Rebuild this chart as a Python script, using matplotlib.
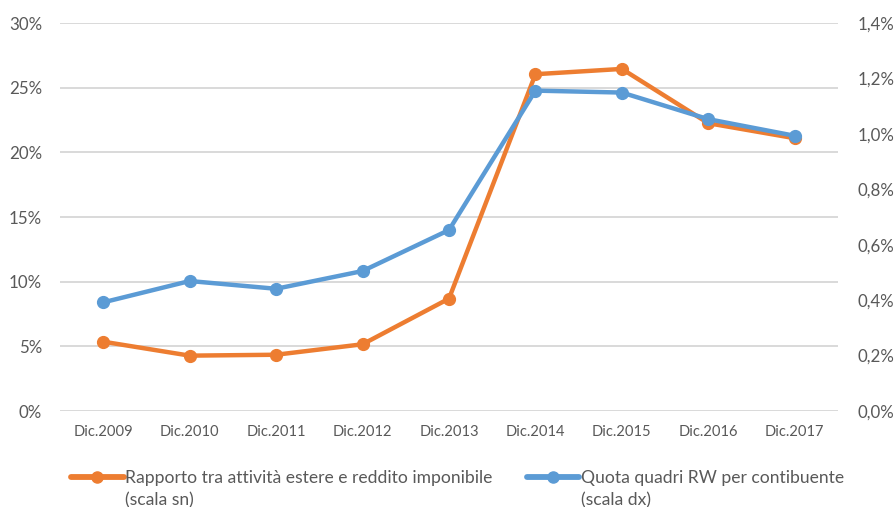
import matplotlib
matplotlib.use("Agg")
import matplotlib.pyplot as plt
from matplotlib.ticker import FuncFormatter

plt.rcParams['font.family'] = ['Lato', 'DejaVu Sans']

anni = ["Dic.2009", "Dic.2010", "Dic.2011", "Dic.2012", "Dic.2013",
        "Dic.2014", "Dic.2015", "Dic.2016", "Dic.2017"]
# rapporto attività estere / reddito imponibile (%), scala sinistra
rapporto = [5.36, 4.28, 4.35, 5.16, 8.69, 26.04, 26.45, 22.25, 21.09]
# quota quadri RW per contribuente (%), scala destra
quota_rw = [0.392, 0.469, 0.441, 0.505, 0.653, 1.156, 1.149, 1.053, 0.993]

ARANCIO = "#ED7D31"
BLU = "#5B9BD5"
GRIGIO = "#595959"

fig = plt.figure(figsize=(8.96, 5.07), dpi=100)
ax = fig.add_axes([60 / 896, 1 - 411 / 507, 778 / 896, 388 / 507])
ax2 = ax.twinx()

x = list(range(len(anni)))
l1, = ax.plot(x, rapporto, color=ARANCIO, lw=3.2, marker="o", ms=8.5,
              solid_capstyle="round", zorder=3)
l2, = ax2.plot(x, quota_rw, color=BLU, lw=3.2, marker="o", ms=8.5,
               solid_capstyle="round", zorder=3)

ax.set_xlim(-0.5, len(anni) - 0.5)
ax.set_ylim(0, 30)
ax2.set_ylim(0, 1.4)
ax.set_yticks(range(0, 31, 5))
ax2.set_yticks([i * 0.2 for i in range(8)])
ax.yaxis.set_major_formatter(FuncFormatter(lambda v, p: f"{v:.0f}%"))
ax2.yaxis.set_major_formatter(
    FuncFormatter(lambda v, p: f"{v:.1f}%".replace(".", ",")))
ax.set_xticks(x)
ax.set_xticklabels(anni)

ax.grid(axis="y", color="#D9D9D9", lw=1.4)
ax.set_axisbelow(True)
for a in (ax, ax2):
    for s in a.spines.values():
        s.set_visible(False)
    a.tick_params(length=0, colors=GRIGIO, labelsize=12.2)
ax.tick_params(axis="y", pad=13)
ax2.tick_params(axis="y", pad=14)
ax.tick_params(axis="x", pad=10, labelsize=10.6)

# legenda in basso
leg = fig.legend([l1, l2],
                 ["Rapporto tra attività estere e reddito imponibile",
                  "Quota quadri RW per contibuente"],
                 loc="lower left", bbox_to_anchor=(64 / 896, 1 - 493 / 507),
                 ncol=2, frameon=False, fontsize=12.6, handlelength=3.0,
                 handletextpad=0.1, columnspacing=1.95, borderaxespad=0,
                 labelcolor=GRIGIO)
for h in leg.legend_handles:
    h.set_linewidth(4.2)
    h.set_markersize(8)

fig.canvas.draw()
r = fig.canvas.get_renderer()
for t, s in zip(leg.get_texts(), ["(scala sn)", "(scala dx)"]):
    bb = t.get_window_extent(r)
    fig.text(bb.x0 / fig.bbox.width, (bb.y0 - 22) / fig.bbox.height, s,
             fontsize=12.6, color=GRIGIO, va="bottom", ha="left")

fig.savefig("out.png", dpi=100)
